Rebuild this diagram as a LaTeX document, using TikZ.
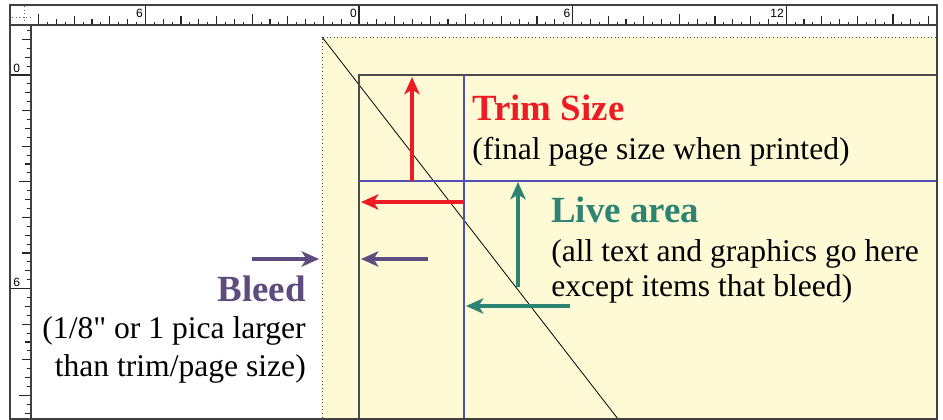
\documentclass[tikz,border=0pt]{standalone}
\usepackage{fontspec}
\setmainfont{Liberation Serif}[Ligatures=TeXOff]
\setsansfont{Liberation Sans}
\usepackage{xcolor}
\usepackage{tikz}
\usetikzlibrary{arrows.meta}
\definecolor{bleedyellow}{RGB}{255,250,214}
\definecolor{trimred}{RGB}{237,28,36}
\definecolor{liveteal}{RGB}{46,132,114}
\definecolor{bleedpurple}{RGB}{94,76,126}
\definecolor{marginblue}{RGB}{80,80,180}

\begin{document}
\begin{tikzpicture}[x=0.75pt, y=-0.75pt,
  frameline/.style={draw=black!75, line width=0.9pt},
  rulertick/.style={draw=black!85, line width=0.8pt},
  rulerlabel/.style={font=\sffamily\fontsize{9}{9}\selectfont, inner sep=0pt},
  bleedline/.style={draw=black!70, dotted, line width=0.7pt},
  trimline/.style={draw=black!70, line width=1.4pt},
  marginline/.style={draw=marginblue, line width=1.1pt},
  pointer/.style={line width=2.3pt, -{Stealth[length=13pt, width=11.5pt, inset=3.5pt]}},
  headlabel/.style={font=\bfseries\fontsize{27.7}{30}\selectfont, inner sep=0pt},
  notelabel/.style={font=\fontsize{23.7}{27}\selectfont, inner sep=0pt},
]
  \useasboundingbox (0,0) rectangle (943,420);

  % === Page area ===
  \coordinate (bleedTL) at (322,37);
  \coordinate (trimTL) at (359,75);
  \fill[white] (10,5) rectangle (937,419);
  \fill[bleedyellow] (bleedTL) rectangle (936,419);
  \draw[bleedline] (936,37) -- (bleedTL) -- (322,419);
  \draw[black, line width=0.6pt] (bleedTL) -- (618,419);
  \draw[trimline] (936,75) -- (trimTL) -- (359,419);
  \draw[marginline] (464,75) -- (464,419);
  \draw[marginline] (359,181) -- (936,181);

  % === Trim size ===
  \coordinate (trimUpS) at (412,181);
  \coordinate (trimUpE) at (412,77);
  \coordinate (trimLeftS) at (464,202);
  \coordinate (trimLeftE) at (361,202);
  \draw[pointer, trimred] (trimUpS) -- (trimUpE);
  \draw[pointer, trimred] (trimLeftS) -- (trimLeftE);
  \node[headlabel, text=trimred, anchor=base west] (trimhead) at (472,121) {Trim Size};
  \node[notelabel, anchor=base west] (trimnote) at (472,160) {(final page size when printed)};

  % === Live area ===
  \coordinate (liveUpS) at (518,287);
  \coordinate (liveUpE) at (518,182);
  \coordinate (liveLeftS) at (570,306);
  \coordinate (liveLeftE) at (466,306);
  \draw[pointer, liveteal] (liveUpS) -- (liveUpE);
  \draw[pointer, liveteal] (liveLeftS) -- (liveLeftE);
  \node[headlabel, text=liveteal, anchor=base west] (livehead) at (551,223) {Live area};
  \node[notelabel, anchor=base west] (livenoteA) at (551,262) {(all text and graphics go here};
  \node[notelabel, anchor=base west] (livenoteB) at (551,297) {except items that bleed)};

  % === Bleed ===
  \coordinate (bleedInS) at (252,259);
  \coordinate (bleedInE) at (319,259);
  \coordinate (bleedOutS) at (428,259);
  \coordinate (bleedOutE) at (361,259);
  \draw[pointer, bleedpurple] (bleedInS) -- (bleedInE);
  \draw[pointer, bleedpurple] (bleedOutS) -- (bleedOutE);
  \node[headlabel, text=bleedpurple, anchor=base east] (bleedhead) at (306,302) {Bleed};
  \node[notelabel, anchor=base east] (bleednoteA) at (306,339) {(1/8" or 1 pica larger};
  \node[notelabel, anchor=base east] (bleednoteB) at (306,377) {than trim/page size)};

  % === Rulers ===
  \fill[white] (10,5) rectangle (937,25);
  \fill[white] (10,25) rectangle (31,419);
  \foreach \k in {-36,...,64}{
    \pgfmathsetmacro{\ticklen}{mod(\k,24)==0 ? 20 : (mod(\k,12)==0 ? 11 : (mod(\k,4)==0 ? 8.5 : (mod(\k,2)==0 ? 5.5 : 3)))}
    \draw[rulertick] ({359+8.9*(\k)},25) -- ++(0,-\ticklen);
  }
  \foreach \k in {-5,...,38}{
    \pgfmathsetmacro{\ticklen}{mod(\k,24)==0 ? 21 : (mod(\k,12)==0 ? 12 : (mod(\k,4)==0 ? 9 : (mod(\k,2)==0 ? 6 : 4)))}
    \draw[rulertick] (31,{75+8.9*(\k)}) -- ++(-\ticklen,0);
  }
  \node[rulerlabel, anchor=north east] (hsix) at (143,8.5) {6};
  \node[rulerlabel, anchor=north east] (hzero) at (357,8.5) {0};
  \node[rulerlabel, anchor=north east] (hsixb) at (570.5,8.5) {6};
  \node[rulerlabel, anchor=north east] (htwelve) at (784,8.5) {12};
  \node[rulerlabel, anchor=south west] (vzero) at (13,73) {0};
  \node[rulerlabel, anchor=south west] (vsix) at (13,286.5) {6};

  % === Zero point corner ===
  \draw[black!60, dotted, line width=0.7pt] (12,17) -- (31,17);
  \draw[black!60, dotted, line width=0.7pt] (24,6) -- (24,25);

  % === Window frame ===
  \draw[frameline] (10,5) rectangle (937,419);
  \draw[frameline] (10,25) -- (937,25);
  \draw[frameline] (31,25) -- (31,419);
\end{tikzpicture}
\end{document}
